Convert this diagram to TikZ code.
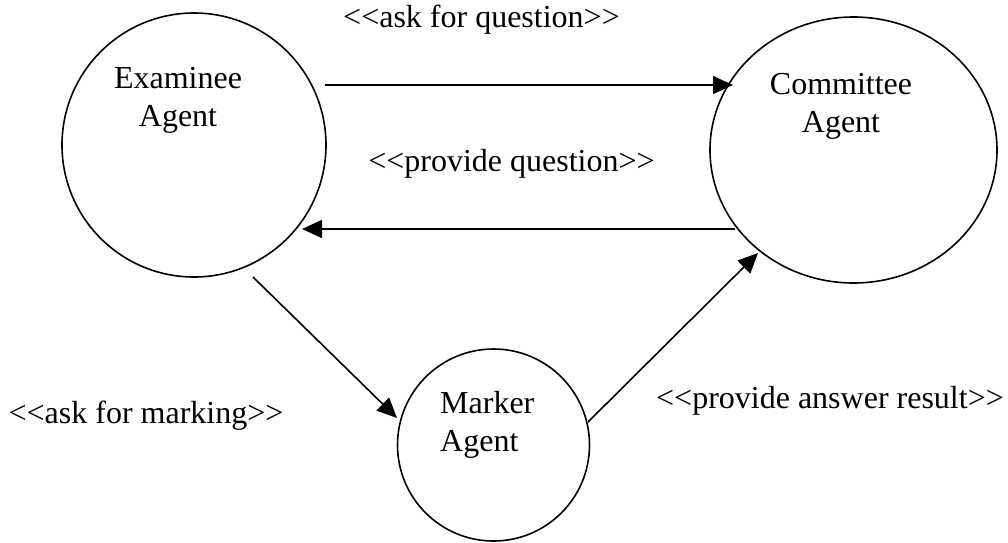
\documentclass[tikz,border=0pt]{standalone}
\usepackage{fontspec}
\setmainfont{Liberation Serif}
\usetikzlibrary{arrows.meta,shapes.geometric}

\tikzset{
  agent/.style={draw, line width=1.6pt, inner sep=0pt},
  agentname/.style={inner sep=0pt, font=\fontsize{32}{37.5}\selectfont},
  msglabel/.style={inner sep=0pt, anchor=base, font=\fontsize{32}{37.5}\selectfont},
  msg/.style={line width=1.6pt, -{Triangle[length=20pt,width=18pt]}}
}

\begin{document}
\begin{tikzpicture}[x=1pt,y=-1pt]
  \useasboundingbox (0,0) rectangle (1008,542);

  % agents
  \node[agent, circle, minimum size=264pt] (exam) at (194,145) {};
  \node[agent, ellipse, minimum width=287pt, minimum height=266pt] (comm) at (853.5,150) {};
  \node[agent, circle, minimum size=192pt] (mark) at (493.5,445) {};

  % agent names (base anchor sits on the last line)
  \node[agentname, align=center, anchor=base] (examtxt) at (178,126) {Examinee\\Agent};
  \node[agentname, align=center, anchor=base] (commtxt) at (841,132) {Committee\\Agent};
  \node[agentname, align=left, anchor=base west] (marktxt) at (440,451) {Marker\\Agent};

  % connector end points
  \coordinate (askS) at (325,85);
  \coordinate (askE) at (733,85);
  \coordinate (provS) at (735,229);
  \coordinate (provE) at (302,229);
  \coordinate (markS) at (253,277);
  \coordinate (markE) at (397,418);
  \coordinate (resS) at (588,422);
  \coordinate (resE) at (758,253);

  % messages
  \draw[msg] (askS) -- (askE);
  \draw[msg] (provS) -- (provE);
  \draw[msg] (markS) -- (markE);
  \draw[msg] (resS) -- (resE);

  % message labels
  \node[msglabel] (l1) at (481.5,27) {<{}<ask for question>{}>};
  \node[msglabel] (l2) at (511.5,171) {<{}<provide question>{}>};
  \node[msglabel] (l3) at (146,423) {<{}<ask for marking>{}>};
  \node[msglabel] (l4) at (830,408) {<{}<provide answer result>{}>};
\end{tikzpicture}
\end{document}
